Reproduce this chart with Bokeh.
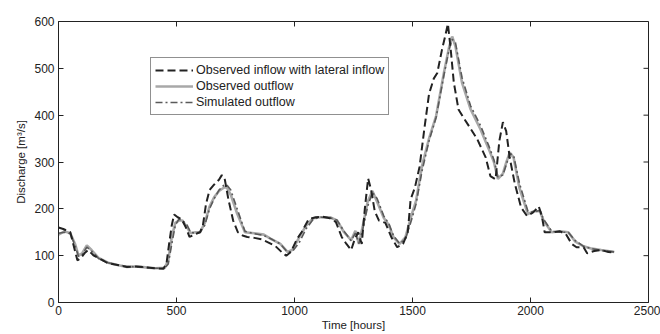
import math
from bokeh.plotting import figure
from bokeh.models import Range1d, Legend, LegendItem, FixedTicker
from bokeh.embed import file_html
from bokeh.resources import INLINE

# Observed inflow with lateral inflow
t_in = [0, 20, 50, 65, 80, 95, 110, 125, 150, 180,
        210, 250, 290, 330, 370, 410, 445, 458, 470, 480,
        490, 505, 522, 540, 555, 575, 600, 612, 625, 640,
        660, 680, 692, 705, 720, 740, 760, 780, 800, 830,
        860, 890, 920, 945, 965, 985, 1010, 1030, 1060, 1090,
        1120, 1150, 1175, 1200, 1220, 1240, 1255, 1270, 1285, 1298,
        1312, 1325, 1340, 1358, 1385, 1410, 1435, 1460, 1480, 1492,
        1510, 1530, 1550, 1570, 1590, 1605, 1625, 1640, 1650, 1662,
        1675, 1695, 1712, 1740, 1775, 1810, 1830, 1852, 1868, 1883,
        1897, 1912, 1933, 1960, 1985, 2010, 2035, 2048, 2060, 2090,
        2125, 2150, 2175, 2195, 2225, 2240, 2270, 2300, 2330, 2355]
v_in = [160, 157, 150, 120, 90, 95, 105, 112, 100, 92,
        84, 80, 76, 77, 75, 73, 72, 85, 130, 165,
        188, 182, 178, 160, 140, 145, 150, 165, 210, 240,
        252, 262, 272, 262, 220, 175, 150, 143, 140, 138,
        135, 128, 120, 108, 100, 108, 135, 150, 178, 182,
        183, 180, 172, 140, 125, 112, 135, 150, 125, 200,
        265, 240, 195, 175, 170, 140, 118, 125, 150, 220,
        245, 290, 370, 445, 478, 490, 540, 572, 595, 540,
        470, 412, 398, 376, 348, 310, 270, 263, 345, 385,
        366, 309, 255, 203, 185, 192, 205, 185, 150, 150,
        152, 146, 125, 118, 118, 105, 110, 112, 108, 107]

# Observed and simulated outflow
t_out = [0, 25, 50, 70, 85, 100, 120, 140, 170, 210,
         250, 290, 330, 370, 410, 450, 465, 480, 495, 510,
         525, 545, 560, 580, 600, 620, 640, 660, 680, 700,
         712, 730, 757, 790, 830, 870, 900, 940, 970, 990,
         1020, 1050, 1080, 1110, 1150, 1180, 1210, 1240, 1258, 1273,
         1290, 1310, 1330, 1350, 1378, 1400, 1420, 1445, 1470, 1495,
         1515, 1540, 1570, 1600, 1633, 1655, 1668, 1682, 1710, 1746,
         1788, 1823, 1845, 1862, 1883, 1898, 1912, 1928, 1953, 1989,
         2015, 2040, 2055, 2090, 2125, 2160, 2190, 2225, 2260, 2300,
         2355]
v_out = [145, 152, 148, 125, 100, 105, 122, 112, 95, 85,
         80, 76, 77, 75, 73, 74, 90, 140, 170, 175,
         175, 160, 148, 150, 150, 170, 205, 225, 238, 245,
         247, 230, 190, 150, 148, 145, 136, 125, 108, 112,
         139, 165, 180, 182, 182, 175, 150, 133, 153, 125,
         165, 215, 238, 215, 181, 165, 139, 125, 139, 185,
         217, 291, 350, 398, 490, 545, 568, 547, 469, 413,
         370, 328, 300, 264, 275, 300, 320, 310, 245, 189,
         195, 195, 175, 150, 152, 150, 130, 120, 115, 112,
         108]
v_sim = [148, 150, 147, 122, 98, 102, 118, 110, 94, 85,
         80, 77, 76, 75, 73, 73, 82, 125, 165, 178,
         176, 165, 150, 148, 150, 165, 200, 222, 240, 250,
         252, 240, 200, 152, 147, 143, 136, 125, 108, 108,
         128, 158, 178, 182, 181, 176, 152, 132, 148, 126,
         158, 205, 235, 222, 185, 168, 142, 126, 135, 175,
         210, 280, 345, 395, 485, 540, 562, 555, 480, 420,
         378, 335, 305, 268, 272, 295, 318, 315, 255, 195,
         193, 197, 178, 152, 150, 150, 132, 120, 115, 111,
         108]

x_ticks = [0, 500, 1000, 1500, 2000, 2500]
y_ticks = [0, 100, 200, 300, 400, 500, 600]

FONT = "Liberation Sans"
TXT = "#222222"
AXC = "#222222"

p = figure(width=660, height=334, output_backend="svg", toolbar_location=None,
           x_range=Range1d(x_ticks[0], x_ticks[-1]), y_range=Range1d(y_ticks[0], y_ticks[-1]),
           min_border_left=58, min_border_right=12, min_border_top=21, min_border_bottom=32)
p.grid.visible = False
p.outline_line_color = AXC
p.outline_line_width = 1
p.background_fill_color = "white"
p.border_fill_color = "white"

for ax in (p.xaxis[0], p.yaxis[0]):
    ax.major_tick_in = 5
    ax.major_tick_out = 0
    ax.minor_tick_line_color = None
    ax.axis_line_color = AXC
    ax.major_tick_line_color = AXC
    ax.major_label_text_font = FONT
    ax.major_label_text_font_size = "12px"
    ax.major_label_text_color = TXT
    ax.axis_label_text_font = FONT
    ax.axis_label_text_font_size = "11.5px"
    ax.axis_label_text_font_style = "normal"
    ax.axis_label_text_color = TXT

p.xaxis[0].ticker = FixedTicker(ticks=x_ticks)
p.yaxis[0].ticker = FixedTicker(ticks=y_ticks)
p.xaxis[0].axis_label = "Time [hours]"
p.yaxis[0].axis_label = "Discharge [m³/s]"
p.xaxis[0].major_label_standoff = 3
p.xaxis[0].axis_label_standoff = 1
p.yaxis[0].major_label_standoff = 4
p.yaxis[0].axis_label_standoff = 4

# mirrored inward ticks on top and right (MATLAB style box)
p.ray(x=x_ticks, y=[y_ticks[-1]] * len(x_ticks), length=5, length_units="screen",
      angle=-math.pi / 2, line_color=AXC, line_width=1)
p.ray(x=[x_ticks[-1]] * len(y_ticks), y=y_ticks, length=5, length_units="screen",
      angle=math.pi, line_color=AXC, line_width=1)

r_out = p.line(t_out, v_out, line_color="#a8a8a8", line_width=2.6)
r_sim = p.line(t_out, v_sim, line_color="#5a5a5a", line_width=1.6, line_dash="7 3 2 3")
r_in = p.line(t_in, v_in, line_color="#222222", line_width=2.0, line_dash="8 4")

legend = Legend(items=[
    LegendItem(label="Observed inflow with lateral inflow", renderers=[r_in]),
    LegendItem(label="Observed outflow", renderers=[r_out]),
    LegendItem(label="Simulated outflow", renderers=[r_sim]),
], location=(92, 187))
legend.label_text_font = FONT
legend.label_text_font_size = "12.5px"
legend.label_text_color = TXT
legend.glyph_width = 38
legend.glyph_height = 16
legend.label_height = 16
legend.label_standoff = 3
legend.spacing = 0
legend.padding = 4
legend.margin = 0
legend.border_line_color = AXC
legend.border_line_width = 1
legend.background_fill_color = "white"
legend.background_fill_alpha = 1
p.add_layout(legend, "center")

open("out.html", "w").write(file_html(p, INLINE))
